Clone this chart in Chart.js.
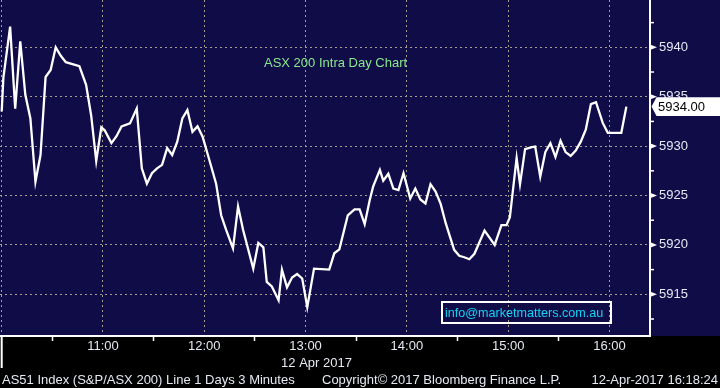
<!DOCTYPE html>
<html><head><meta charset="utf-8">
<script src="https://cdn.jsdelivr.net/npm/chart.js@4"></script>
<style>html,body{margin:0;padding:0;background:#000}canvas{display:block}</style>
</head><body>
<canvas id="c" width="720" height="388"></canvas>
<script>
// ---- data ----
const times = ["10:00","10:01","10:05","10:08","10:11","10:14","10:17","10:20","10:23","10:26",
"10:29","10:32","10:35","10:38","10:46","10:50","10:53","10:56","10:59","11:01",
"11:05","11:08","11:11","11:16","11:20","11:23","11:26","11:29","11:32","11:35",
"11:38","11:41","11:44","11:47","11:50","11:53","11:56","11:59","12:03","12:07",
"12:10","12:13","12:17","12:20","12:23","12:29","12:32","12:35","12:37","12:40",
"12:44","12:46","12:49","12:52","12:55","12:58","13:01","13:05","13:14","13:17",
"13:20","13:25","13:29","13:32","13:35","13:38","13:40","13:44","13:46","13:49",
"13:52","13:55","13:58","14:02","14:05","14:08","14:11","14:14","14:17","14:20",
"14:23","14:28","14:31","14:34","14:37","14:40","14:46","14:52","14:56","14:59",
"15:01","15:05","15:07","15:10","15:14","15:16","15:19","15:22","15:25","15:28",
"15:31","15:34","15:37","15:40","15:43","15:46","15:49","15:52","15:56","15:59",
"16:07","16:10"];
const values = [5933.5,5936.9,5942.1,5933.8,5940.6,5935.2,5932.8,5926.4,5929.1,5937.0,
5937.7,5940.0,5939.15,5938.5,5938.1,5936.2,5933.1,5928.5,5931.9,5931.6,
5930.3,5931.0,5932.0,5932.3,5933.8,5927.75,5926.2,5927.25,5927.75,5928.1,
5929.8,5929.1,5930.45,5932.8,5933.65,5931.45,5932.0,5930.95,5928.6,5926.2,
5923.0,5921.5,5919.65,5923.9,5921.5,5917.6,5920.2,5919.75,5916.25,5915.8,
5914.4,5917.5,5915.7,5916.7,5917.05,5916.6,5913.7,5917.6,5917.5,5919.15,
5919.55,5923.0,5923.6,5923.6,5922.1,5924.55,5925.9,5927.6,5926.5,5927.2,
5925.7,5925.55,5927.25,5924.7,5925.7,5924.6,5924.2,5926.15,5925.4,5924.15,
5922.2,5919.5,5918.9,5918.75,5918.55,5919.1,5921.45,5920.0,5922.0,5922.0,
5922.8,5928.8,5926.15,5929.7,5929.9,5929.95,5926.9,5929.4,5930.3,5928.9,
5930.55,5929.4,5929.0,5929.55,5930.45,5931.7,5934.25,5934.45,5932.35,5931.35,
5931.35,5934.0];
const lastValueLabel = "5934.00";
const chartTitle = "ASX 200 Intra Day Chart";
const dateLabel = "12 Apr 2017";
const emailText = "info@marketmatters.com.au";
const footerLeft = "AS51 Index (S&P/ASX 200) Line 1 Days 3 Minutes";
const footerMid = "Copyright\u00A9 2017 Bloomberg Finance L.P.";
const footerRight = "12-Apr-2017 16:18:24";

// ---- helpers ----
const OPEN_HOUR = 10;
function toMin(t){const [h,m]=t.split(':').map(Number);return (h-OPEN_HOUR)*60+m;}
function fmt(v){const h=OPEN_HOUR+Math.floor(v/60), m=v%60;return h+':'+String(m).padStart(2,'0');}
const points = times.map((t,i)=>({x:toMin(t), y:values[i]}));

const NAVY = '#100c48';
const GRID = '#a39f8a';
const TXT = '#e6e8f2';
const FONT = "'Liberation Sans', Arial, sans-serif";

const decor = {
  id:'decor',
  beforeDraw(chart){
    const {ctx, chartArea} = chart;
    ctx.save();
    ctx.fillStyle = '#000';
    ctx.fillRect(0,0,chart.width,chart.height);
    ctx.fillStyle = NAVY;
    ctx.fillRect(0,0,chart.width,chartArea.bottom);
    ctx.restore();
  },
  afterDraw(chart){
    const {ctx, chartArea, scales} = chart;
    const xs = scales.x, ys = scales.y;
    ctx.save();
    // y tick marks
    ctx.fillStyle = '#fff'; ctx.strokeStyle = '#fff';
    ys.ticks.forEach(t=>{
      const py = ys.getPixelForValue(t.value);
      if (t.value % 5 === 0) {
        ctx.beginPath();
        ctx.moveTo(chartArea.right, py-2.8);
        ctx.lineTo(chartArea.right+7, py);
        ctx.lineTo(chartArea.right, py+2.8);
        ctx.closePath(); ctx.fill();
      } else {
        ctx.lineWidth = 1.5;
        ctx.beginPath();
        ctx.moveTo(chartArea.right, py);
        ctx.lineTo(chartArea.right+4, py);
        ctx.stroke();
      }
    });
    // session start marker
    const x0 = xs.getPixelForValue(0);
    ctx.lineWidth = 2;
    ctx.beginPath(); ctx.moveTo(x0, chartArea.bottom); ctx.lineTo(x0, chartArea.bottom+32); ctx.stroke();

    // title
    ctx.font = '13px ' + FONT;
    ctx.textBaseline = 'alphabetic';
    ctx.textAlign = 'left';
    ctx.fillStyle = '#8ae88c';
    ctx.fillText(chartTitle, 264, 66.5);

    // email box
    ctx.strokeStyle = '#fff'; ctx.lineWidth = 2;
    ctx.strokeRect(442, 302, 169, 21);
    ctx.fillStyle = '#14d2f5';
    ctx.font = '12.6px ' + FONT;
    ctx.fillText(emailText, 445, 317);
    ctx.font = '13px ' + FONT;

    // date label
    ctx.fillStyle = TXT;
    ctx.textAlign = 'center';
    ctx.fillText(dateLabel, 316.5, 366.5);

    // footer
    ctx.textAlign = 'left';
    ctx.fillText(footerLeft, 2, 384);
    ctx.fillText(footerMid, 322, 384);
    ctx.textAlign = 'right';
    ctx.fillText(footerRight, 718, 384);

    // last value box
    const ly = ys.getPixelForValue(values[values.length-1]);
    const bx = chartArea.right + 1.5;
    ctx.fillStyle = '#fff';
    ctx.beginPath();
    ctx.moveTo(bx, ly);
    ctx.lineTo(bx+5, ly-9.3);
    ctx.lineTo(720, ly-9.3);
    ctx.lineTo(720, ly+9.3);
    ctx.lineTo(bx+5, ly+9.3);
    ctx.closePath(); ctx.fill();
    ctx.fillStyle = '#000';
    ctx.textAlign = 'left';
    ctx.textBaseline = 'middle';
    ctx.fillText(lastValueLabel, 658, ly+0.5);
    ctx.restore();
  }
};

new Chart(document.getElementById('c'), {
  type:'line',
  data:{datasets:[{data:points, borderColor:'#ffffff', borderWidth:2.3, pointRadius:0, tension:0, fill:false}]},
  options:{
    responsive:false, animation:false, devicePixelRatio:1,
    layout:{padding:0},
    plugins:{legend:{display:false}, tooltip:{enabled:false}},
    scales:{
      x:{
        type:'linear', position:'bottom', min:-1, max:384,
        afterFit(s){ s.height = 52; s.paddingLeft = 0; s.paddingRight = 0; },
        ticks:{stepSize:30, includeBounds:false, autoSkip:false, maxRotation:0, maxTicksLimit:100,
          color:TXT, font:{family:FONT, size:13}, padding:-2,
          callback:(v)=> (v%60===0 && v>0) ? fmt(v) : ''},
        grid:{color:(c)=> (c.tick && c.tick.value%60===0) ? GRID : 'rgba(0,0,0,0)', lineWidth:1,
          drawTicks:true, tickLength:5, tickWidth:1.5,
          tickColor:(c)=> (c.tick && c.tick.value%60!==0) ? '#ffffff' : 'rgba(0,0,0,0)'},
        border:{display:true, color:'#ffffff', width:2, dash:[2,3]}
      },
      y:{
        position:'right', min:5910.78, max:5944.79,
        afterFit(s){ s.width = 70; s.paddingTop = 0; s.paddingBottom = 0; },
        ticks:{stepSize:2.5, includeBounds:false, autoSkip:false, maxTicksLimit:100,
          color:TXT, font:{family:FONT, size:13}, padding:9,
          callback:(v)=> (v%5===0) ? String(v) : ''},
        grid:{color:(c)=> (c.tick && c.tick.value%5===0) ? GRID : 'rgba(0,0,0,0)', lineWidth:1, drawTicks:false},
        border:{display:true, color:'#ffffff', width:2, dash:[2,3]}
      }
    }
  },
  plugins:[decor]
});
</script>
</body></html>
